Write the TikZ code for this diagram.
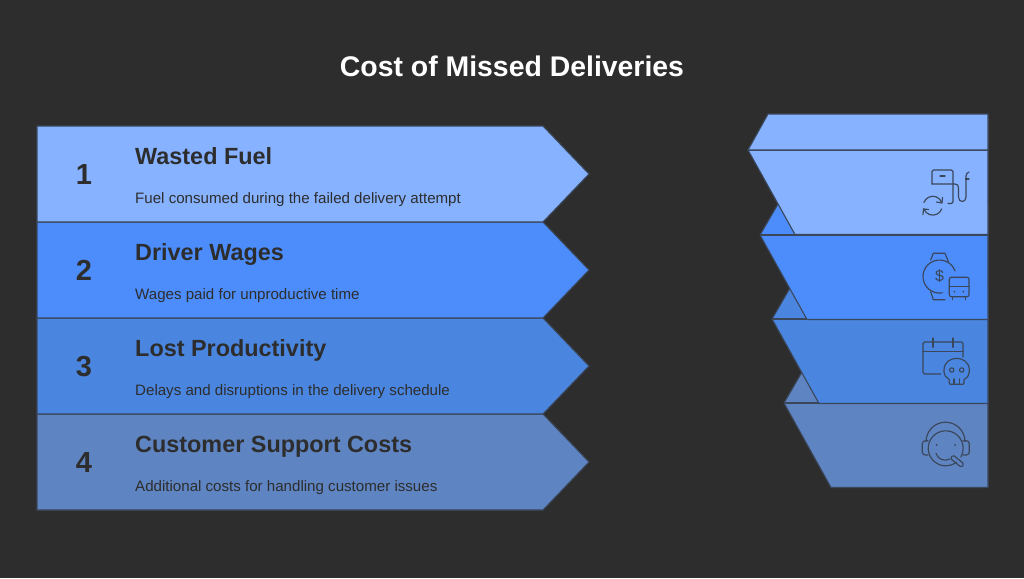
\documentclass[tikz,border=0pt]{standalone}
\usepackage{fontspec}
\setmainfont{Liberation Sans}
\usetikzlibrary{positioning}
\usetikzlibrary{quotes}
\definecolor{bgcol}{HTML}{2D2D2D}
\definecolor{linecol}{HTML}{3A465A}
\definecolor{bandA}{HTML}{86B2FF}
\definecolor{bandB}{HTML}{4C8DFB}
\definecolor{bandC}{HTML}{4A86E0}
\definecolor{bandD}{HTML}{5F84C2}

\begin{document}
\begin{tikzpicture}[
		x=1pt,y=-1pt,
		leftband/.pic={
			\coordinate (-num) at (47,58.3);
			\coordinate (-head) at (98,38.2);
			\coordinate (-desc) at (98,77.5);
			\draw [pic actions] (0,0) -- (506,0) -- (552,48) -- (506,96) -- (0,96) --cycle;
		},
		rightband/.pic={
			\coordinate (-tip) at (0,0);
			\draw [pic actions] (0,0) -- (18,-31) -- (#1,-31) -- (#1,84.5) -- (47,84.5) --cycle;
			\draw [pic actions] (0,0) -- (#1,0);
		},
		rightcap/.pic={
			\draw [pic actions] (0,0) -- (20,-36) -- (240,-36) -- (240,0) --cycle;
		},
		fuelicon/.pic={
			\draw [icon,rounded corners=1.5] (10,14) -- (10,0) -- (31,0) -- (31,33.5) -- (26,33.5);
			\draw [icon] (10,14) -- (33,14) .. controls (35.5,14) and (36.5,15.5) .. (36.5,18) -- (36.5,27) .. controls (36.5,33) and (44,33) .. (44,27) -- (44,6) .. controls (44,4) and (45.5,2.5) .. (47,2);
			\draw [icon] (18,6) -- (23,6);
			\draw [icon] (43.5,9) -- (47,9);
			\draw [icon] (1.9,32.5) arc (200:340:9.5);
			\draw [icon] (19.7,38.9) arc (20:160:9.5);
			\draw [icon] (14.5,32) -- (20,33) -- (20.5,27.5);
			\draw [icon] (6.5,39.5) -- (1.5,39) -- (1,44.5);
		},
		watchicon/.pic={
			\draw [icon] (33,17.9) arc (-20:-280:16.5);
			\draw [icon] (8.7,7) -- (11.3,0.3) -- (23,0.3) -- (26.3,8.7);
			\draw [icon] (8.7,38.7) -- (11.3,46.7) -- (23,46.7);
			\draw [icon,rounded corners=2] (27.3,24.3) rectangle (47,43.7);
			\draw [icon] (27.3,33.7) -- (47,33.7);
			\draw [icon] (30.7,43.7) -- (30.7,46.7);
			\draw [icon] (43.7,43.7) -- (43.7,46.7);
			\fill [linecol] (32.3,38.7) circle (1) (41.3,38.7) circle (1);
		},
		calendaricon/.pic={
			\draw [icon,rounded corners=1.5] (17.7,36) -- (0,36) -- (0,4) -- (40,4) -- (40,19);
			\draw [icon] (0,13.7) -- (40,13.7);
			\draw [icon] (10,0) -- (10,9.3);
			\draw [icon] (30,0) -- (30,9.3);
			\draw [icon,rounded corners=1] (26.3,46.3) -- (26.3,41) .. controls (23,40) and (21,37) .. (21,33) .. controls (21,16.5) and (46.3,16.5) .. (46.3,33) .. controls (46.3,37) and (44,40) .. (41,41) -- (41,46.3) --cycle;
			\draw [icon] (31,41) -- (31,46.3) (36.3,41) -- (36.3,46.3);
			\draw [icon] (28.7,32) circle (2.2);
			\draw [icon] (38.7,32) circle (2.2);
		},
		headseticon/.pic={
			\draw [icon] (34.5,41.1) arc (52:390:17.5);
			\draw [icon] (4,20.7) arc (180:360:19.5);
			\draw [icon,rounded corners=3] (6,19.7) -- (0.3,19.7) -- (0.3,34) -- (6,34);
			\draw [icon,rounded corners=3] (41,19.7) -- (47.3,19.7) -- (47.3,34) -- (41,34);
			\fill [linecol] (14.7,24) circle (1) (33,24) circle (1);
			\draw [icon] (14,32.3) .. controls (15.5,38) and (22,41) .. (28,38);
			\draw [icon,rounded corners=1.5] (28.3,37.4) -- (39.3,46.4) -- (42.1,43) -- (31.1,34) --cycle;
		},
		icon/.style={draw=linecol,line width=1.15pt,line cap=round,line join=round},
		band/.style={draw=linecol,line width=1.1pt},
		numtext/.style={anchor=base,inner sep=0,font=\bfseries\fontsize{29}{30}\selectfont,text=bgcol},
		headtext/.style={anchor=base west,inner sep=0,font=\bfseries\fontsize{23.4}{28}\selectfont,text=bgcol},
		desctext/.style={anchor=base west,inner sep=0,font=\fontsize{15.1}{17}\selectfont,text=bgcol}
	]
	\fill [bgcol] (0,0) rectangle (1024,578);
	\useasboundingbox (0,0) rectangle (1024,578);

	\node [anchor=base,inner sep=0,text=white,font=\bfseries\fontsize{28.4}{32}\selectfont] (title) at (512,76) {Cost of Missed Deliveries};

	\pic [band,fill=bandD] (ld) at (37,414) {leftband};
	\pic [band,fill=bandC] (lc) at (37,318) {leftband};
	\pic [band,fill=bandB] (lb) at (37,222) {leftband};
	\pic [band,fill=bandA] (la) at (37,126) {leftband};

	\node [numtext] (num1) at (la-num) {1};
	\node [headtext] (head1) at (la-head) {Wasted Fuel};
	\node [desctext] (desc1) at (la-desc) {Fuel consumed during the failed delivery attempt};

	\node [numtext] (num2) at (lb-num) {2};
	\node [headtext] (head2) at (lb-head) {Driver Wages};
	\node [desctext] (desc2) at (lb-desc) {Wages paid for unproductive time};

	\node [numtext] (num3) at (lc-num) {3};
	\node [headtext] (head3) at (lc-head) {Lost Productivity};
	\node [desctext] (desc3) at (lc-desc) {Delays and disruptions in the delivery schedule};

	\node [numtext] (num4) at (ld-num) {4};
	\node [headtext] (head4) at (ld-head) {Customer Support Costs};
	\node [desctext] (desc4) at (ld-desc) {Additional costs for handling customer issues};

	\pic [band,fill=bandD] (rd) at (784,403) {rightband=204};
	\pic [band,fill=bandC] (rc) at (772,319) {rightband=216};
	\pic [band,fill=bandB] (rb) at (760,235) {rightband=228};
	\pic [band,fill=bandA] (ra) at (748,150) {rightband=240};
	\pic [band,fill=bandA] (rcap) at (748,150) {rightcap};

	\pic (fuel) at (922,170) {fuelicon};
	\pic (watch) at (922,253) {watchicon};
	\pic (calendar) at (923,338) {calendaricon};
	\pic (headset) at (922,421) {headseticon};
	\node [text=linecol,font=\fontsize{16}{18}\selectfont] (dollar) at (939.5,276.5) {\$};

\end{tikzpicture}
\end{document}
